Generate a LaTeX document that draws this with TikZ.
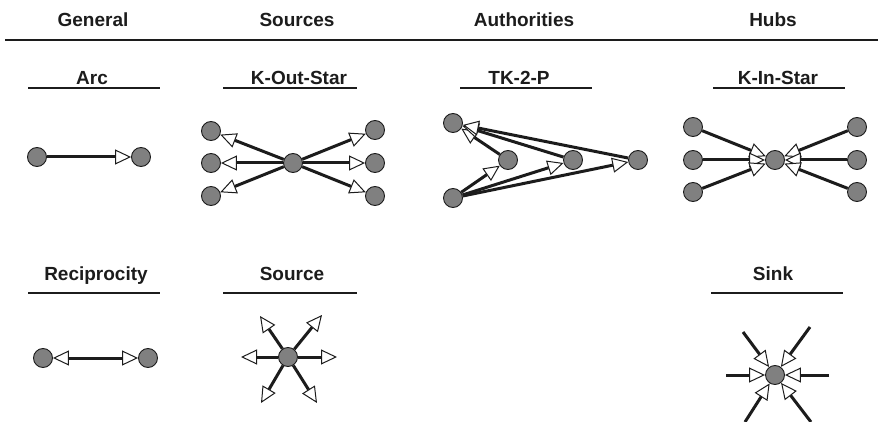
\documentclass[tikz,border=0pt]{standalone}
\usepackage{fontspec}
\setmainfont{Liberation Sans}
\usepackage{xcolor}
\usetikzlibrary{arrows.meta}
\definecolor{vgray}{RGB}{128,128,128}
\definecolor{inkcol}{RGB}{28,28,28}

\begin{document}
\begin{tikzpicture}[x=1pt,y=-1pt,
 vert/.style={circle,draw=inkcol,fill=vgray,line width=0.9pt,minimum size=19pt,inner sep=0pt},
 tip/.tip={Triangle[length=16pt,width=15pt,fill=white,line width=1pt]},
 tie/.style={draw=inkcol,line width=3pt,-tip},
 both/.style={draw=inkcol,line width=3pt,tip-tip},
 head/.style={anchor=base,text=inkcol,font=\fontsize{19}{23}\selectfont\bfseries},
 rule/.style={draw=inkcol,line width=2.8pt}]
\useasboundingbox (0,0) rectangle (878,422);

\node[head] (hgen) at (93,27) {General};
\node[head] (hsrc) at (297,27) {Sources};
\node[head] (haut) at (524,27) {Authorities};
\node[head] (hhub) at (773,27) {Hubs};
\draw[rule] (5,40) -- (878,40);

\node[head] (tarc) at (92,85) {Arc};
\draw[rule] (28,88) -- (160,88);
\node[head] (tout) at (299,85) {K-Out-Star};
\draw[rule] (223,88) -- (357,88);
\node[head] (ttk) at (519,85) {TK-2-P};
\draw[rule] (460,88) -- (592,88);
\node[head] (tin) at (778,85) {K-In-Star};
\draw[rule] (713,88) -- (845,88);
\node[head] (trec) at (96,280) {Reciprocity};
\draw[rule] (28,293) -- (160,293);
\node[head] (tsrc) at (292,280) {Source};
\draw[rule] (223,293) -- (357,293);
\node[head] (tsnk) at (773,280) {Sink};
\draw[rule] (711,293) -- (843,293);

% arc
\node[vert] (a1) at (37,157) {};
\node[vert] (a2) at (141,157) {};
\draw[tie] (a1) -- (a2);

% k-out-star
\node[vert] (o0) at (293,163) {};
\node[vert] (o1) at (211,131) {};
\node[vert] (o2) at (211,163) {};
\node[vert] (o3) at (211,196) {};
\node[vert] (o4) at (375,130) {};
\node[vert] (o5) at (375,163) {};
\node[vert] (o6) at (375,196) {};
\foreach \i in {1,...,6} \draw[tie] (o0) -- (o\i);

% tk-2-p
\node[vert] (p0) at (453,123) {};
\node[vert] (p1) at (508,160) {};
\node[vert] (p2) at (573,160) {};
\node[vert] (p3) at (638,160) {};
\node[vert] (p4) at (453,198) {};
\foreach \i in {1,2,3} {
  \draw[tie] (p4) -- (p\i);
  \draw[tie] (p\i) -- (p0);
}

% k-in-star
\node[vert] (n0) at (775,160) {};
\node[vert] (n1) at (693,127) {};
\node[vert] (n2) at (693,160) {};
\node[vert] (n3) at (693,192) {};
\node[vert] (n4) at (857,127) {};
\node[vert] (n5) at (857,160) {};
\node[vert] (n6) at (857,192) {};
\foreach \i in {1,...,6} \draw[tie] (n\i) -- (n0);

% reciprocity
\node[vert] (r1) at (43,358) {};
\node[vert] (r2) at (148,358) {};
\draw[both] (r1) -- (r2);

% source
\node[vert] (s0) at (288,357) {};
\coordinate (s1) at (241,357);
\coordinate (s2) at (337,357);
\coordinate (s3) at (260,316);
\coordinate (s4) at (322,315);
\coordinate (s5) at (261,403);
\coordinate (s6) at (317,403);
\foreach \i in {1,...,6} \draw[tie] (s0) -- (s\i);

% sink
\node[vert] (k0) at (775,375) {};
\coordinate (k1) at (726,375);
\coordinate (k2) at (829,375);
\coordinate (k3) at (743,332);
\coordinate (k4) at (810,327);
\coordinate (k5) at (745,422);
\coordinate (k6) at (811,422);
\foreach \i in {1,...,6} \draw[tie] (k\i) -- (k0);
\end{tikzpicture}
\end{document}
